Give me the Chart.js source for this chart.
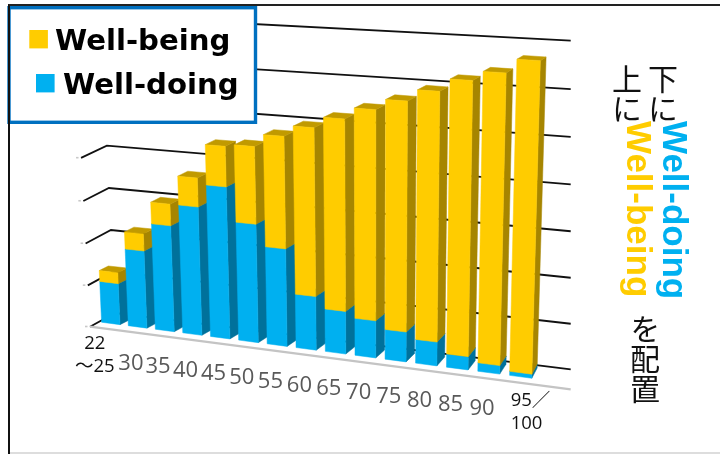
<!DOCTYPE html>
<html lang="ja">
<head>
<meta charset="utf-8">
<title>Well-being / Well-doing</title>
<script src="https://cdn.jsdelivr.net/npm/chart.js@4"></script>
<style>
  html, body { margin: 0; padding: 0; background: #fff; }
  #stage { position: relative; width: 720px; height: 454px; overflow: hidden; }
  #plot { position: absolute; left: 0; top: 0; width: 720px; height: 454px; }
  .frame { position: absolute; left: 8px; top: 4px; right: 0; bottom: 0; border-top: 2px solid #222; border-left: 2px solid #111; pointer-events: none; }
  .bottomRule { position: absolute; left: 10px; right: 0; top: 452px; height: 2px; background: #ddd; }
  .note { position: absolute; writing-mode: vertical-rl; white-space: nowrap; font-family: "Noto Sans CJK JP", sans-serif; font-size: 30px; line-height: 36px; color: #111; }
  .note b { position: relative; left: 12px; margin-top: -3px; font-family: "Liberation Sans", sans-serif; font-size: 35px; font-weight: 700; }
</style>
</head>
<body>
<div id="stage">
  <canvas id="plot" width="720" height="454"></canvas>
  <div class="frame"></div>
  <div class="bottomRule"></div>
  <div class="note" style="left:645px;top:64px">下に<b style="color:#00B0F0">Well-doing</b></div>
  <div class="note" style="left:609px;top:64px">上に<b style="color:#FFCC00">Well-being</b></div>
  <div class="note" style="left:627px;top:314px">を配置</div>
</div>
<script>
// Age bands along the bottom of the chart
const categories = ['22\n～25', '30', '35', '40', '45', '50', '55', '60', '65', '70', '75', '80', '85', '90', '95／\n100'];
// Stack segments per age band
const wellDoing = [9.9, 18.4, 25, 30, 35.2, 27.4, 22.5, 12.4, 9.8, 8.5, 6.8, 5.4, 3, 1.9, 0.9];
const wellBeing = [2.6, 4, 5, 6.6, 9.1, 17.4, 25.1, 37.6, 42.6, 46.4, 50.4, 54.3, 59.4, 62.5, 66.4];
// Value axis
const axisMax = 70;
const axisStep = 10;

const YELLOW = { front: '#FFCC00', side: '#A68500', top: '#C19A00' };
const BLUE = { front: '#00B0F0', side: '#00719B', top: '#0085B5' };

// Builds a projective map from the unit square onto a screen quad (BL, BR, TR, TL)
function projector(q) {
  const [[x0, y0], [x1, y1], [x2, y2], [x3, y3]] = q;
  const dx1 = x1 - x2, dx2 = x3 - x2, sx = x0 - x1 + x2 - x3;
  const dy1 = y1 - y2, dy2 = y3 - y2, sy = y0 - y1 + y2 - y3;
  const den = dx1 * dy2 - dx2 * dy1;
  const g = (sx * dy2 - dx2 * sy) / den;
  const h = (dx1 * sy - sx * dy1) / den;
  const a = x1 - x0 + g * x1, b = x3 - x0 + h * x3;
  const d = y1 - y0 + g * y1, e = y3 - y0 + h * y3;
  return (u, v) => {
    const w = g * u + h * v + 1;
    return [(a * u + b * v + x0) / w, (d * u + e * v + y0) / w];
  };
}

// Planes of the 3D box: bar fronts, bar rears, back wall and left wall
const frontPlane = projector([[97.5, 321.7], [536.8, 378.9], [546, 47.5], [83.5, 20.7]]);
const rearPlane = projector([[106.5, 317.2], [542, 368.6], [551.6, 44.1], [92.7, 15.5]]);
const wallPlane = projector([[115, 313], [570.7, 369.3], [570.7, 40.7], [100.5, 16]]);
const sidePlane = projector([[90, 326.7], [115, 313], [100.5, 16], [74, 25]]);
const floorEdge = [[90, 326.7], [570.7, 389.3]];

function polygon(ctx, pts, color) {
  ctx.beginPath();
  pts.forEach((p, i) => (i ? ctx.lineTo(p[0], p[1]) : ctx.moveTo(p[0], p[1])));
  ctx.closePath();
  ctx.fillStyle = color;
  ctx.strokeStyle = color;
  ctx.lineWidth = 0.5;
  ctx.fill();
  ctx.stroke();
}

const perspectiveBars = {
  id: 'perspectiveBars',
  beforeDatasetsDraw(chart) {
    const { ctx, chartArea: area, scales } = chart;
    const toU = x => (x - area.left) / (area.right - area.left);
    const toV = y => (area.bottom - y) / (area.bottom - area.top);

    ctx.save();
    ctx.lineCap = 'butt';

    // Horizontal gridlines on the back wall with their returns along the left wall
    scales.y.ticks.forEach(t => {
      const v = toV(scales.y.getPixelForValue(t.value));
      const a = sidePlane(0, v), b = wallPlane(0, v), c = wallPlane(1, v);
      ctx.beginPath();
      ctx.moveTo(a[0], a[1]);
      ctx.lineTo(b[0], b[1]);
      ctx.lineTo(c[0], c[1]);
      ctx.strokeStyle = '#111';
      ctx.lineWidth = 1.8;
      ctx.lineJoin = 'miter';
      ctx.stroke();
      ctx.fillStyle = '#c8c8c8';
      ctx.fillRect(a[0] - 5, a[1] - 1, 2.5, 1.6);
    });

    // Floor edge along the value-zero level
    ctx.beginPath();
    ctx.moveTo(floorEdge[0][0], floorEdge[0][1]);
    ctx.lineTo(floorEdge[1][0], floorEdge[1][1]);
    ctx.strokeStyle = '#c4c4c4';
    ctx.lineWidth = 2.2;
    ctx.stroke();

    // Bars: side and top faces first, then the front face of each stack segment
    chart.data.labels.forEach((_, i) => {
      chart.data.datasets.forEach((ds, di) => {
        const el = chart.getDatasetMeta(di).data[i];
        const p = el.getProps(['x', 'y', 'base', 'width'], true);
        const ul = toU(p.x - p.width / 2), ur = toU(p.x + p.width / 2);
        const vb = toV(p.base), vt = toV(p.y);
        const col = ds.faces;
        polygon(ctx, [frontPlane(ur, vb), rearPlane(ur, vb), rearPlane(ur, vt), frontPlane(ur, vt)], col.side);
        polygon(ctx, [frontPlane(ul, vt), frontPlane(ur, vt), rearPlane(ur, vt), rearPlane(ul, vt)], col.top);
        polygon(ctx, [frontPlane(ul, vb), frontPlane(ur, vb), frontPlane(ur, vt), frontPlane(ul, vt)], col.front);
      });
    });

    // Category labels follow the slanted base of the bars
    ctx.textBaseline = 'middle';
    chart.data.labels.forEach((label, i) => {
      const p = frontPlane(toU(scales.x.getPixelForValue(i)), 0);
      const lines = label.split('\n');
      if (lines.length === 1) {
        ctx.textAlign = 'center';
        ctx.font = '22px "Open Sans", sans-serif';
        ctx.fillStyle = '#595959';
        ctx.fillText(label, p[0] - 6.7, p[1] + 36.5);
      } else {
        const first = i === 0;
        ctx.font = '18.5px "Open Sans", "Noto Sans CJK JP", sans-serif';
        ctx.fillStyle = '#111';
        ctx.textAlign = first ? 'center' : 'left';
        const x = first ? p[0] - 16 : p[0] - 10;
        const y = first ? p[1] + 20.5 : p[1] + 24.4;
        ctx.fillText(lines[0], x, y);
        ctx.fillText(lines[1], x, y + 22.5);
      }
    });

    // Legend card with the series listed top-down
    ctx.fillStyle = '#fff';
    ctx.fillRect(8.5, 7.5, 248, 115);
    ctx.strokeStyle = '#0070C0';
    ctx.lineWidth = 3.4;
    ctx.strokeRect(9, 7.7, 246.5, 114.6);
    const rows = [[1, 29.3, 30, 55, 50], [0, 36, 74, 63, 94.3]];
    ctx.textAlign = 'left';
    ctx.textBaseline = 'alphabetic';
    ctx.font = 'bold 29.2px "DejaVu Sans", sans-serif';
    rows.forEach(([di, sx, sy, tx, ty]) => {
      const ds = chart.data.datasets[di];
      ctx.fillStyle = ds.backgroundColor;
      ctx.fillRect(sx, sy, 18.6, 18.4);
      ctx.fillStyle = '#000';
      ctx.fillText(ds.label, tx, ty);
    });

    ctx.restore();
    return false;
  }
};

new Chart(document.getElementById('plot'), {
  type: 'bar',
  data: {
    labels: categories,
    datasets: [
      { label: 'Well-doing', data: wellDoing, backgroundColor: BLUE.front, faces: BLUE },
      { label: 'Well-being', data: wellBeing, backgroundColor: YELLOW.front, faces: YELLOW }
    ]
  },
  options: {
    responsive: false,
    animation: false,
    layout: { padding: 0 },
    categoryPercentage: 1,
    barPercentage: 0.69,
    plugins: { legend: { display: false }, tooltip: { enabled: false }, title: { display: false } },
    scales: {
      x: { stacked: true, display: false, ticks: { autoSkip: false } },
      y: { stacked: true, display: false, min: 0, max: axisMax, ticks: { stepSize: axisStep } }
    }
  },
  plugins: [perspectiveBars]
});
</script>
</body>
</html>
